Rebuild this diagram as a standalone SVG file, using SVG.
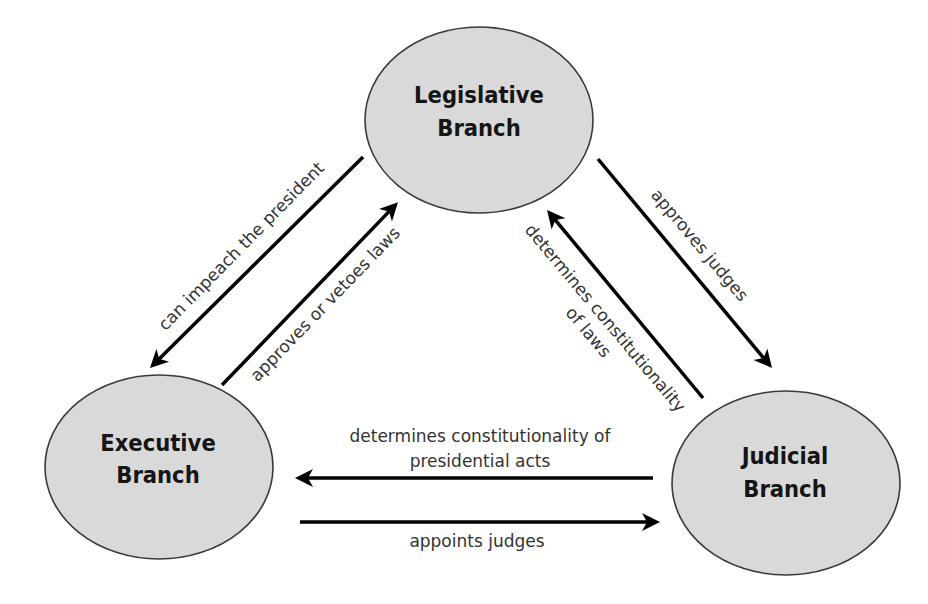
<svg xmlns="http://www.w3.org/2000/svg" width="928" height="604" viewBox="0 0 928 604">
  <style>
    .node ellipse { fill: #d9d9d9; stroke: #3a3a3a; stroke-width: 1.6; }
    .node text { font-family: "DejaVu Sans Condensed", "DejaVu Sans", sans-serif; font-weight: bold; font-size: 23.5px; fill: #151515; text-anchor: middle; }
    .conn line { stroke: #000; stroke-width: 3.5; fill: none; }
    .lbl { font-family: "DejaVu Sans", Verdana, sans-serif; font-size: 17px; fill: #333; text-anchor: middle; }
  </style>
  <defs>
    <marker id="arr" markerUnits="userSpaceOnUse" viewBox="-2 -11 22 22" markerWidth="22" markerHeight="22" refX="14" refY="0" orient="auto">
      <path d="M0,-9 L18,0 L0,9 L5,0 Z" fill="#000"/>
    </marker>
  </defs>
  <rect width="928" height="604" fill="#fff"/>

  <g id="legislative" class="node">
    <ellipse cx="479" cy="120" rx="114" ry="93"/>
    <text x="479" y="103">Legislative</text>
    <text x="479" y="136">Branch</text>
  </g>
  <g id="executive" class="node">
    <ellipse cx="159" cy="467" rx="114" ry="92"/>
    <text x="158" y="451">Executive</text>
    <text x="158" y="483">Branch</text>
  </g>
  <g id="judicial" class="node">
    <ellipse cx="786" cy="483" rx="114" ry="92"/>
    <text x="785" y="464">Judicial</text>
    <text x="785" y="497">Branch</text>
  </g>

  <g id="connectors" class="conn">
    <line x1="363" y1="157" x2="152.8" y2="365.2" marker-end="url(#arr)"/>
    <line x1="222" y1="385" x2="395.2" y2="205.1" marker-end="url(#arr)"/>
    <line x1="598" y1="159" x2="769.4" y2="364.9" marker-end="url(#arr)"/>
    <line x1="703" y1="398" x2="549.6" y2="213.1" marker-end="url(#arr)"/>
    <line x1="653" y1="478" x2="299" y2="478" marker-end="url(#arr)"/>
    <line x1="300" y1="522" x2="656" y2="522" marker-end="url(#arr)"/>
  </g>

  <g id="labels">
    <text class="lbl" transform="translate(241,246) rotate(-45.5)" y="6">can impeach the president</text>
    <text class="lbl" transform="translate(325,304) rotate(-46)" y="6">approves or vetoes laws</text>
    <text class="lbl" transform="translate(700,245) rotate(50)" y="6">approves judges</text>
    <text class="lbl" transform="translate(597,325) rotate(50)"><tspan x="0" y="-5">determines constitutionality</tspan><tspan x="0" y="17">of laws</tspan></text>
    <text class="lbl" x="480" y="442">determines constitutionality of</text>
    <text class="lbl" x="480" y="467">presidential acts</text>
    <text class="lbl" x="477" y="547">appoints judges</text>
  </g>
</svg>
